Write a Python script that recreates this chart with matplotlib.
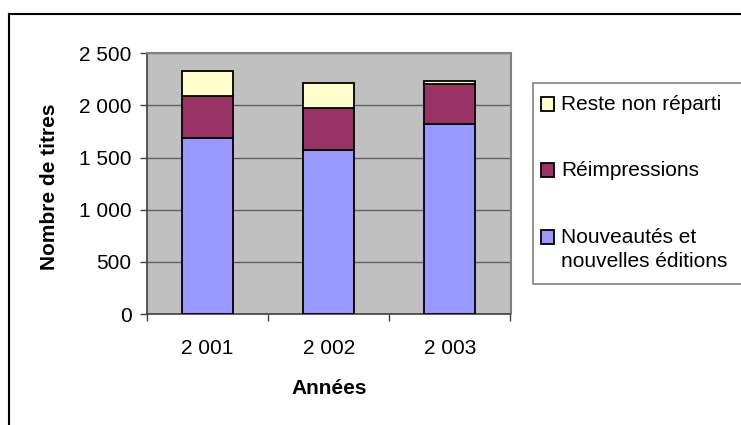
import matplotlib
matplotlib.use("Agg")
import matplotlib.pyplot as plt
from matplotlib.patches import Rectangle
from matplotlib.lines import Line2D
from matplotlib.ticker import FuncFormatter

plt.rcParams['font.family'] = ['Liberation Sans', 'DejaVu Sans']

years = ["2 001", "2 002", "2 003"]
nouveautes = [1690, 1573, 1822]
reimpressions = [400, 406, 384]
reste = [237, 233, 25]

labels = ["Reste non réparti", "Réimpressions", "Nouveautés et\nnouvelles éditions"]
colors = ["#FFFFCC", "#993366", "#9999FF"]

W, H = 741, 425
fig = plt.figure(figsize=(W / 100, H / 100), dpi=100)

# outer chart frame (runs off the right and bottom edges)
top = 1 - 14 / H
left = 8.5 / W
fig.add_artist(Line2D([left, 1.0], [top, top], transform=fig.transFigure,
                      color="black", linewidth=1.5))
fig.add_artist(Line2D([left, left], [0.0, top], transform=fig.transFigure,
                      color="black", linewidth=1.5))

ax = fig.add_axes([147 / W, 1 - 314 / H, 363.5 / W, 260.7 / H])
ax.set_facecolor("#C0C0C0")

x = list(range(len(years)))
bottom2 = [a + b for a, b in zip(nouveautes, reimpressions)]
kw = dict(width=0.42, edgecolor="black", linewidth=1.3, zorder=3)
ax.bar(x, nouveautes, color=colors[2], **kw)
ax.bar(x, reimpressions, bottom=nouveautes, color=colors[1], **kw)
ax.bar(x, reste, bottom=bottom2, color=colors[0], **kw)

ax.set_xlim(-0.5, 2.5)
ax.set_ylim(0, 2500)
ax.set_yticks(range(0, 2501, 500))
ax.yaxis.set_major_formatter(FuncFormatter(lambda v, p: f"{int(v):,}".replace(",", " ")))
ax.set_xticks(x)
ax.set_xticklabels(years)
ax.set_xticks([-0.5, 0.5, 1.5, 2.5], minor=True)
ax.grid(axis="y", color="#606060", linewidth=1, zorder=1)

ax.tick_params(axis="y", labelsize=15, length=5, width=1, color="#404040", pad=6)
ax.tick_params(axis="x", which="major", labelsize=15, length=0, pad=18)
ax.tick_params(axis="x", which="minor", length=5, width=1, color="#404040")

for s in ["top", "right"]:
    ax.spines[s].set_color("#808080")
    ax.spines[s].set_linewidth(1.5)
for s in ["left", "bottom"]:
    ax.spines[s].set_color("#404040")
    ax.spines[s].set_linewidth(1.2)

ax.set_ylabel("Nombre de titres", fontsize=15, fontweight="bold", va="center")
ax.yaxis.set_label_coords(-0.268, 0.49)
ax.set_xlabel("Années", fontsize=15, fontweight="bold", va="center")
ax.xaxis.set_label_coords(0.5, -0.284)

# legend box, drawn by hand so the swatch sits on the first text line
fig.patches.append(Rectangle((533 / W, 1 - 284 / H), 220 / W, 201 / H,
                             transform=fig.transFigure, facecolor="white",
                             edgecolor="#808080", linewidth=1.2))
rows = [104, 170, 237]
for lab, col, yc in zip(labels, colors, rows):
    fig.patches.append(Rectangle((541 / W, 1 - (yc + 7) / H), 13 / W, 14 / H,
                                 transform=fig.transFigure, facecolor=col,
                                 edgecolor="black", linewidth=1.3))
    fig.text(561 / W, 1 - (yc - 9) / H, lab, fontsize=15, va="top", ha="left",
             linespacing=1.35)

fig.savefig("out.png", dpi=100)
